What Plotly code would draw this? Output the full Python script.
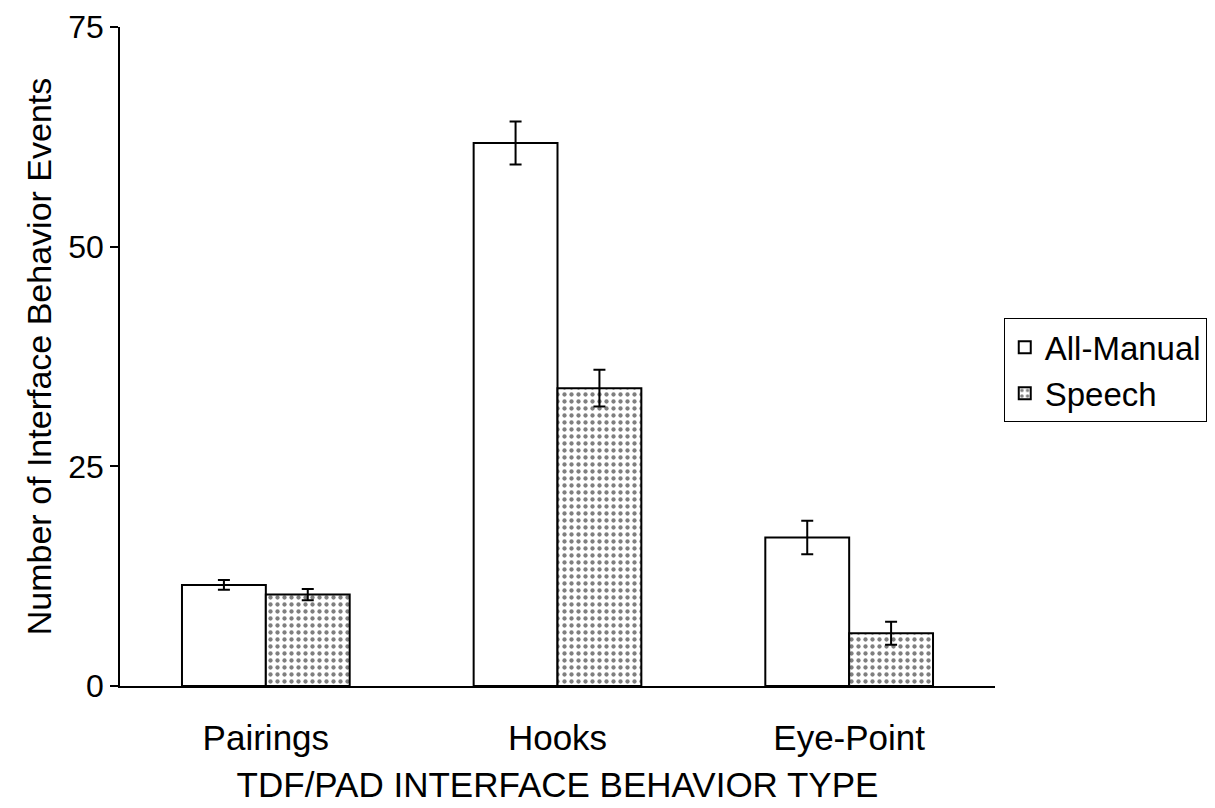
import plotly.graph_objects as go

categories = ["Pairings", "Hooks", "Eye-Point"]
manual_values = [11.5, 61.8, 16.9]
manual_errors = [0.55, 2.45, 1.9]
speech_values = [10.4, 33.9, 6.0]
speech_errors = [0.65, 2.1, 1.3]
y_ticks = [0, 25, 50, 75]

font_family = "Liberation Sans, Arial, Helvetica, sans-serif"

fig = go.Figure()
fig.add_trace(go.Bar(
    name="All-Manual", x=categories, y=manual_values,
    marker=dict(color="white", line=dict(color="black", width=2)),
    error_y=dict(type="data", array=manual_errors, color="black", thickness=2, width=6),
))
fig.add_trace(go.Bar(
    name="Speech", x=categories, y=speech_values,
    marker=dict(color="white", line=dict(color="black", width=2),
                pattern=dict(shape=".", fgcolor="black", bgcolor="white", size=7, solidity=0.3)),
    error_y=dict(type="data", array=speech_errors, color="black", thickness=2, width=6),
))

fig.update_layout(
    width=1215, height=808,
    paper_bgcolor="white", plot_bgcolor="white",
    barmode="group", bargap=0.425, bargroupgap=0,
    margin=dict(l=112, r=228, t=19, b=130),
    font=dict(family=font_family, color="black", size=30),
    showlegend=True,
    legend=dict(
        x=1.01, y=0.479, xanchor="left", yanchor="middle",
        bordercolor="black", borderwidth=1, bgcolor="white",
        font=dict(size=33), tracegroupgap=0,
    ),
)
fig.update_xaxes(
    showline=True, linecolor="black", linewidth=1.5,
    ticks="", showgrid=False, zeroline=False,
    ticklabelstandoff=20, tickfont=dict(size=35),
    title=dict(text="TDF/PAD INTERFACE BEHAVIOR TYPE", font=dict(size=35), standoff=17),
    automargin=False,
)
fig.update_yaxes(
    range=[0, 75], tickvals=y_ticks, ticktext=[str(v) for v in y_ticks],
    showline=True, linecolor="black", linewidth=1.5,
    ticks="outside", ticklen=8, tickcolor="black", tickwidth=1.5,
    showgrid=False, zeroline=False, tickfont=dict(size=32),
    ticklabeloverflow="allow",
    title=dict(text="Number of Interface Behavior Events", font=dict(size=34), standoff=6),
    automargin=False,
)

fig.write_html("out.html")
